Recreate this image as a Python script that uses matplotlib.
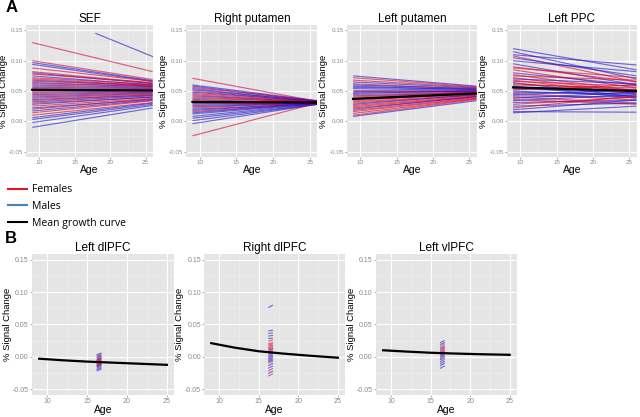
import matplotlib
matplotlib.use('Agg')
import matplotlib.pyplot as plt
from matplotlib.lines import Line2D

# ---------------- data: panel A (lines from age 9 to age 26) ----------------
age_a = [9, 26]

sef_start = [0.130, 0.100, 0.097, 0.094, 0.088, 0.082, 0.080, 0.078, 0.075, 0.072, 0.070, 0.068, 0.066, 0.064,
             0.062, 0.060, 0.058, 0.056, 0.054, 0.052, 0.050, 0.048, 0.046, 0.044, 0.042, 0.040, 0.038, 0.036,
             0.034, 0.032, 0.030, 0.028, 0.025, 0.022, 0.020, 0.017, 0.014, 0.010, 0.006, 0.003, -0.002, -0.010]
sef_end = [0.082, 0.069, 0.067, 0.066, 0.066, 0.063, 0.062, 0.064, 0.060, 0.061, 0.059, 0.058, 0.060, 0.057,
           0.058, 0.056, 0.055, 0.054, 0.053, 0.052, 0.051, 0.050, 0.049, 0.048, 0.047, 0.046, 0.045, 0.043,
           0.044, 0.042, 0.040, 0.040, 0.038, 0.036, 0.037, 0.035, 0.034, 0.031, 0.030, 0.028, 0.026, 0.022]
sef_sex = "FFMMFFMFMFFMFMFMFMFMFMFMFMFMFMFMFMFMFFMMMM"
sef_outlier_age = [18, 26]
sef_outlier_val = [0.145, 0.107]
sef_mean = [0.052, 0.051]

rput_start = [0.071, 0.060, 0.058, 0.056, 0.054, 0.052, 0.050, 0.048, 0.046, 0.044, 0.042, 0.040, 0.038, 0.036,
              0.034, 0.032, 0.030, 0.028, 0.026, 0.024, 0.022, 0.020, 0.018, 0.016, 0.014, 0.012, 0.008, 0.005,
              0.001, -0.004, -0.024]
rput_end = [0.033, 0.034, 0.033, 0.034, 0.032, 0.033, 0.032, 0.033, 0.032, 0.031, 0.032, 0.031, 0.032, 0.030,
            0.031, 0.031, 0.030, 0.031, 0.030, 0.030, 0.031, 0.029, 0.030, 0.029, 0.030, 0.029, 0.029, 0.028,
            0.028, 0.028, 0.030]
rput_sex = "FMMFMMFMFFMFFMFFMFMMFMMFMMMMMMF"
rput_mean = [0.032, 0.031]

lput_start = [0.075, 0.072, 0.068, 0.065, 0.062, 0.060, 0.058, 0.056, 0.054, 0.052, 0.050, 0.048, 0.046, 0.044,
              0.042, 0.040, 0.038, 0.036, 0.034, 0.032, 0.030, 0.028, 0.026, 0.024, 0.022, 0.020, 0.018, 0.016,
              0.013, 0.010, 0.008]
lput_end = [0.058, 0.057, 0.056, 0.055, 0.053, 0.054, 0.052, 0.053, 0.051, 0.052, 0.050, 0.049, 0.050, 0.048,
            0.047, 0.048, 0.046, 0.045, 0.046, 0.044, 0.043, 0.044, 0.042, 0.041, 0.040, 0.041, 0.039, 0.038,
            0.037, 0.036, 0.034]
lput_sex = "MFFMFMMMMFMMMFMFFMFFFMFFFMFFFFM"
lput_mean = [0.037, 0.046]

lppc_start = [0.120, 0.115, 0.110, 0.108, 0.105, 0.100, 0.095, 0.090, 0.088, 0.085, 0.080, 0.077, 0.075, 0.072,
              0.070, 0.068, 0.066, 0.064, 0.062, 0.060, 0.058, 0.056, 0.054, 0.052, 0.050, 0.048, 0.046, 0.044,
              0.042, 0.040, 0.038, 0.036, 0.034, 0.031, 0.028, 0.025, 0.022, 0.019, 0.016, 0.014]
lppc_end = [0.085, 0.070, 0.093, 0.065, 0.075, 0.082, 0.060, 0.065, 0.072, 0.055, 0.060, 0.050, 0.068, 0.048,
            0.062, 0.045, 0.058, 0.040, 0.052, 0.055, 0.038, 0.050, 0.047, 0.060, 0.042, 0.045, 0.035, 0.052,
            0.040, 0.030, 0.048, 0.028, 0.044, 0.035, 0.040, 0.030, 0.042, 0.035, 0.015, 0.025]
lppc_sex = "MMMFMMMFFFMFFFMFFMFFMFMFMMFMMFMFMMFMFMMM"
lppc_mean = [0.056, 0.050]

# ---------------- data: panel B (short segments around age 16-17) ----------------
age_b = [16.2, 16.8]

ldl_start = [0.003, 0.001, -0.001, -0.002, -0.004, -0.005, -0.006, -0.007, -0.008, -0.009, -0.010,
             -0.011, -0.012, -0.013, -0.014, -0.015, -0.016, -0.018, -0.020, -0.022]
ldl_end = [0.006, 0.004, 0.002, 0.001, -0.001, -0.002, -0.002, -0.004, -0.005, -0.006, -0.007,
           -0.008, -0.009, -0.010, -0.011, -0.012, -0.013, -0.015, -0.017, -0.019]
ldl_sex = "MMFMFFMFFFMFFFMFMMMM"

rdl_start = [0.076, 0.040, 0.036, 0.032, 0.028, 0.024, 0.020, 0.018, 0.016, 0.014, 0.012, 0.010, 0.008,
             0.006, 0.004, 0.002, 0.000, -0.002, -0.004, -0.006, -0.008, -0.010, -0.014, -0.018, -0.022,
             -0.026, -0.030]
rdl_end = [0.080, 0.041, 0.037, 0.033, 0.029, 0.026, 0.022, 0.020, 0.018, 0.016, 0.014, 0.013, 0.011,
           0.009, 0.007, 0.005, 0.003, 0.001, -0.001, -0.003, -0.005, -0.007, -0.010, -0.014, -0.018,
           -0.022, -0.026]
rdl_sex = "MMMMMFFFFFFMFFMFMMMMMFMMFMF"

lvl_start = [0.022, 0.019, 0.016, 0.013, 0.011, 0.009, 0.007, 0.005, 0.003, 0.001, -0.001, -0.003,
             -0.005, -0.008, -0.011, -0.014, -0.018]
lvl_end = [0.025, 0.022, 0.020, 0.017, 0.015, 0.013, 0.011, 0.009, 0.007, 0.005, 0.003, 0.001,
           -0.001, -0.004, -0.007, -0.010, -0.014]
lvl_sex = "MMFMFFFMFMMFMMMMM"

curve_age = [9, 12, 15, 18, 21, 25]
ldl_curve = [-0.003, -0.0055, -0.0075, -0.009, -0.0105, -0.0125]
rdl_curve = [0.021, 0.014, 0.0085, 0.005, 0.002, -0.0015]
lvl_curve = [0.010, 0.008, 0.0062, 0.005, 0.004, 0.003]

RED, BLUE = '#d8002a', '#2010c8'
BG, GRID_C, TICK_C = '#e5e5e5', 'white', '#8a8a8a'
plt.rcParams['font.family'] = ['Liberation Sans', 'DejaVu Sans']

fig = plt.figure(figsize=(6.4, 4.17), dpi=100)


def gg_axes(rect, title, xlim, tick_size):
    ax = fig.add_axes(rect)
    ax.set_facecolor(BG)
    for s in ax.spines.values():
        s.set_visible(False)
    ax.set_xlim(*xlim)
    ax.set_ylim(-0.059, 0.159)
    ax.set_xticks([10, 15, 20, 25])
    ax.set_xticks([12.5, 17.5, 22.5], minor=True)
    ax.set_yticks([-0.05, 0.0, 0.05, 0.10, 0.15])
    ax.set_yticklabels(['-0.05', '0.00', '0.05', '0.10', '0.15'])
    ax.set_yticks([-0.025, 0.025, 0.075, 0.125], minor=True)
    ax.grid(True, which='major', color=GRID_C, lw=0.8)
    ax.grid(True, which='minor', color='#f0f0f0', lw=0.4)
    ax.set_axisbelow(True)
    ax.tick_params(which='major', length=1.5, width=0.5, color=TICK_C, labelcolor=TICK_C,
                   labelsize=tick_size, pad=0.8)
    ax.tick_params(which='minor', length=0)
    ax.set_title(title, fontsize=8.5, pad=2)
    ax.set_xlabel('Age', fontsize=7.5, labelpad=0)
    ax.set_ylabel('% Signal Change', fontsize=6.8, labelpad=0.8)
    return ax


def draw_lines(ax, xs, starts, ends, sexes, lw=0.85):
    for s, e, g in zip(starts, ends, sexes):
        ax.plot(xs, [s, e], color=RED if g == 'F' else BLUE, lw=lw, alpha=0.6, solid_capstyle='butt')


# panel A
a_rects = [[0.041, 0.6235, 0.198, 0.3165], [0.291, 0.6235, 0.205, 0.3165],
           [0.542, 0.6235, 0.203, 0.3165], [0.792, 0.6235, 0.203, 0.3165]]
a_titles = ['SEF', 'Right putamen', 'Left putamen', 'Left PPC']
a_data = [(sef_start, sef_end, sef_sex, sef_mean), (rput_start, rput_end, rput_sex, rput_mean),
          (lput_start, lput_end, lput_sex, lput_mean), (lppc_start, lppc_end, lppc_sex, lppc_mean)]
for i, (rect, title, (st, en, sx, mn)) in enumerate(zip(a_rects, a_titles, a_data)):
    ax = gg_axes(rect, title, (8.15, 26.05), 4.5)
    draw_lines(ax, age_a, st, en, sx)
    if i == 0:
        ax.plot(sef_outlier_age, sef_outlier_val, color=BLUE, lw=0.85, alpha=0.6)
    ax.plot(age_a, mn, color='black', lw=1.6)

# panel B
b_rects = [[0.050, 0.053, 0.222, 0.338], [0.319, 0.053, 0.220, 0.338], [0.5875, 0.053, 0.220, 0.338]]
b_titles = ['Left dlPFC', 'Right dlPFC', 'Left vlPFC']
b_data = [(ldl_start, ldl_end, ldl_sex, ldl_curve), (rdl_start, rdl_end, rdl_sex, rdl_curve),
          (lvl_start, lvl_end, lvl_sex, lvl_curve)]
for rect, title, (st, en, sx, cv) in zip(b_rects, b_titles, b_data):
    ax = gg_axes(rect, title, (8.1, 25.9), 5)
    draw_lines(ax, age_b, st, en, sx, lw=0.8)
    ax.plot(curve_age, cv, color='black', lw=1.6)

# legend
handles = [Line2D([], [], color='#e8141c', lw=1.5), Line2D([], [], color='#3d85c6', lw=1.5),
           Line2D([], [], color='black', lw=1.5)]
fig.legend(handles, ['Females', 'Males', 'Mean growth curve'], loc='upper left',
           bbox_to_anchor=(0.012, 0.558), frameon=False, handlelength=1.9, handletextpad=0.4,
           labelspacing=0.55, borderpad=0, borderaxespad=0, prop={'family': 'Open Sans', 'size': 7.5})

fig.text(0.008, 0.981, 'A', fontsize=12, fontweight='bold', va='center')
fig.text(0.008, 0.427, 'B', fontsize=12, fontweight='bold', va='center')

fig.savefig('out.png', dpi=100)
